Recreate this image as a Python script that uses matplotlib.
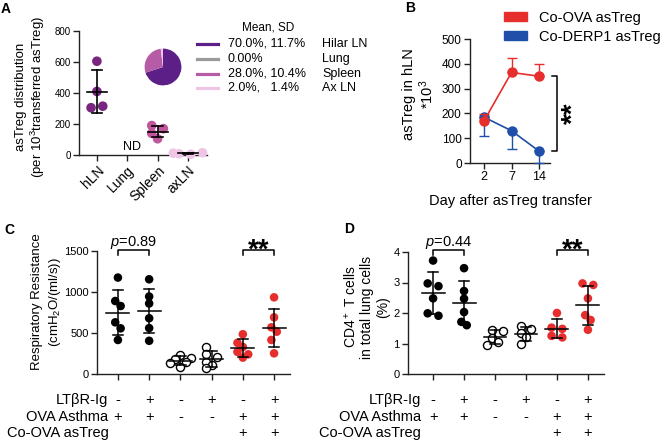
import numpy as np
import matplotlib
matplotlib.use("Agg")
import matplotlib.pyplot as plt
from matplotlib.patches import Patch

plt.rcParams['font.family'] = ['Liberation Sans', 'DejaVu Sans']
plt.rcParams['mathtext.fontset'] = 'custom'
plt.rcParams['mathtext.rm'] = 'Liberation Sans'
plt.rcParams['mathtext.it'] = 'Liberation Sans:italic'
plt.rcParams['mathtext.bf'] = 'Liberation Sans:bold'
plt.rcParams['axes.linewidth'] = 1.0
plt.rcParams['axes.edgecolor'] = '#222222'

W, H = 661, 442

# ---------------- data ----------------
# Panel A
a_cats = ['hLN', 'Lung', 'Spleen', 'axLN']
a_hln = [605, 410, 305, 315]
a_spleen = [190, 170, 140, 105]
a_axln = [5, 15, 8, 12]
a_yticks = [0, 200, 400, 600, 800]
pie_names = ['Hilar LN', 'Lung', 'Spleen', 'Ax LN']
pie_mean = [70.0, 0.0, 28.0, 2.0]
pie_text = ['70.0%, 11.7%', '0.00%', '28.0%, 10.4%', '2.0%,   1.4%']

# Panel B
b_days = ['2', '7', '14']
b_ova = [170, 365, 350]
b_ova_err = [27, 57, 50]
b_derp = [185, 130, 48]
b_derp_err = [77, 75, 48]
b_yticks = [0, 100, 200, 300, 400, 500]

# Panel C
c_groups = [
    [1176, 890, 829, 630, 557, 415],
    [1155, 945, 860, 680, 560, 405],
    [230, 200, 180, 150, 130, 90],
    [330, 240, 205, 150, 110, 70],
    [485, 380, 330, 270, 240, 200],
    [935, 691, 569, 516, 415, 252],
]
c_yticks = [0, 500, 1000, 1500]

# Panel D
d_groups = [
    [3.72, 2.97, 2.88, 2.48, 1.99, 1.91],
    [3.47, 2.72, 2.47, 2.03, 1.71, 1.60],
    [1.45, 1.42, 1.18, 1.05, 0.95],
    [1.58, 1.48, 1.34, 1.20, 0.97],
    [2.00, 1.52, 1.48, 1.25, 1.20],
    [2.97, 2.92, 2.48, 1.93, 1.77, 1.45],
]
d_yticks = [0, 1, 2, 3, 4]

row_labels = ['LT\u03b2R-Ig', 'OVA Asthma', 'Co-OVA asTreg']
row_ltbr = ['-', '+', '-', '+', '-', '+']
row_ova = ['+', '+', '-', '-', '+', '+']
row_treg = ['', '', '', '', '+', '+']

# colours
PURPLE_DARK = '#5b1f87'
PURPLE_DOT = '#7a2580'
GRAY = '#9a9a9a'
PINK = '#b65ba5'
PINK_DOT = '#c0579c'
LIGHT = '#efc5e5'
RED = '#e62e2d'
BLUE = '#1f4fa8'

fig = plt.figure(figsize=(W / 100, H / 100), dpi=100)


def rect(l, t, r, b):
    return [l / W, 1 - b / H, (r - l) / W, (b - t) / H]


def fx(x):
    return x / W


def fy(y):
    return 1 - y / H


def swarm(vals, ppx_x, ppx_y, d=8.3):
    """Greedy beeswarm in pixel space, then each overlapping cluster is centred."""
    placed = []
    for v in vals:
        y = v * ppx_y
        for k in [0, 1, -1, 2, -2, 3, -3]:
            x = k * d * 0.65
            if all((x - px) ** 2 + (y - py) ** 2 >= (0.75 * d) ** 2 for px, py in placed):
                break
        placed.append([x, y])
    # clusters: points linked if vertical gap < d
    n = len(placed)
    order = sorted(range(n), key=lambda j: placed[j][1])
    clusters, cur = [], [order[0]]
    for a, b in zip(order[:-1], order[1:]):
        if placed[b][1] - placed[a][1] < d:
            cur.append(b)
        else:
            clusters.append(cur)
            cur = [b]
    clusters.append(cur)
    for cl in clusters:
        if len(cl) > 1:
            xs = [placed[j][0] for j in cl]
            c = (max(xs) + min(xs)) / 2
            for j in cl:
                placed[j][0] -= c
    return np.array([p[0] / ppx_x for p in placed])


def style_axes(ax, fs=8):
    for s in ['top', 'right']:
        ax.spines[s].set_visible(False)
    ax.tick_params(direction='out', length=4, width=1.0, labelsize=fs, pad=2,
                   color='#222222')


def mean_sd(ax, x, vals, halfw, capw, color='k', lw=1.2):
    m = np.mean(vals)
    s = np.std(vals, ddof=1)
    ax.plot([x - halfw, x + halfw], [m, m], color=color, lw=lw, zorder=5, clip_on=False)
    ax.plot([x, x], [m - s, m + s], color=color, lw=lw, zorder=5, clip_on=False)
    for yy in (m - s, m + s):
        ax.plot([x - capw, x + capw], [yy, yy], color=color, lw=lw, zorder=5, clip_on=False)


# ---------------- Panel A ----------------
axA = fig.add_axes(rect(79, 31, 207, 155))
style_axes(axA, 7)
axA.set_xlim(-0.59, 3.63)
axA.set_ylim(0, 800)
axA.set_yticks(a_yticks)
axA.set_xticks(range(4))
axA.set_xticklabels(a_cats, rotation=45, ha='right', va='top', fontsize=10,
                    rotation_mode='anchor')
ppx_x = 30.33
ppx_y = 124 / 800
for i, (vals, col) in enumerate([(a_hln, PURPLE_DOT), (None, None),
                                 (a_spleen, PINK_DOT), (a_axln, LIGHT)]):
    if vals is None:
        continue
    off = swarm(vals, ppx_x, ppx_y, d=9)
    axA.scatter(i + off, vals, s=48, color=col, edgecolor='none', zorder=3, clip_on=False)
    mean_sd(axA, i, vals, 0.33, 0.17)
axA.text(1.15, 52, 'ND', ha='center', va='center', fontsize=9)
fig.text(fx(31), fy(97), 'asTreg distribution\n(per 10$^3$transferred asTreg)',
         rotation=90, ha='center', va='center', multialignment='center',
         fontsize=9.5, linespacing=1.2)

# pie inset
axP = fig.add_axes(rect(140, 44, 186, 90))
axP.pie(pie_mean, colors=[PURPLE_DARK, GRAY, PINK, LIGHT], startangle=90,
        counterclock=False, wedgeprops=dict(linewidth=0))
axP.set_aspect('equal')
axP.axis('off')

fig.text(fx(242), fy(27), 'Mean, SD', fontsize=8.5, va='center', ha='left')
leg_y = [44, 59, 74, 88]
for yy, col, txt, name in zip(leg_y, [PURPLE_DARK, GRAY, PINK, LIGHT], pie_text, pie_names):
    fig.add_artist(plt.Line2D([fx(197), fx(218)], [fy(yy), fy(yy)], color=col, lw=2.3))
    fig.text(fx(228), fy(yy), txt, fontsize=9, va='center', ha='left')
    fig.text(fx(322), fy(yy), name, fontsize=9, va='center', ha='left')

# ---------------- Panel B ----------------
axB = fig.add_axes(rect(470, 39, 550, 163))
style_axes(axB, 8.5)
axB.set_xlim(-0.51, 2.4)
axB.set_ylim(0, 500)
axB.set_yticks(b_yticks)
axB.set_xticks(range(3))
axB.set_xticklabels(b_days, fontsize=9)
xb = np.arange(3)
axB.errorbar(xb, b_ova, yerr=[np.zeros(3), b_ova_err], color=RED, lw=1.2, marker='o',
             ms=6.5, capsize=3.5, elinewidth=1, capthick=1, zorder=4, clip_on=False)
axB.errorbar(xb, b_derp, yerr=[b_derp_err, np.zeros(3)], color=BLUE, lw=1.2, marker='o',
             ms=6.5, capsize=3.5, elinewidth=1, capthick=1, zorder=3, clip_on=False)
axB.plot([2.47, 2.65, 2.65, 2.47], [b_ova[2], b_ova[2], b_derp[2], b_derp[2]],
         color='k', lw=1.1, clip_on=False)
axB.text(3.5, (b_ova[2] + b_derp[2]) / 2, '**', rotation=90, rotation_mode='anchor',
         ha='center', va='baseline', fontsize=20, fontweight='bold')
fig.text(fx(419), fy(94), 'asTreg in hLN\n*10$^3$', rotation=90, ha='center',
         va='center', multialignment='center', fontsize=10.5, linespacing=1.05)
axB.set_xlabel('Day after asTreg transfer', fontsize=10.5, labelpad=8)
fig.legend(handles=[Patch(color=RED), Patch(color=BLUE)],
           labels=['Co-OVA asTreg', 'Co-DERP1 asTreg'],
           loc='upper left', bbox_to_anchor=(fx(498), fy(5)), frameon=False,
           fontsize=10.5, handlelength=1.6, handleheight=0.55, labelspacing=0.35,
           handletextpad=0.8, borderaxespad=0)


# ---------------- Panels C & D ----------------
def scatter_panel(ax, groups, ylim, yticks, ppx_x, ppx_y, xlim, row_x, p_text,
                  brk, p_y, star_y):
    style_axes(ax, 8)
    ax.set_xlim(*xlim)
    ax.set_ylim(*ylim)
    ax.set_yticks(yticks)
    ax.set_xticks(range(6))
    ax.set_xticklabels([])
    for i, vals in enumerate(groups):
        off = swarm(vals, ppx_x, ppx_y)
        if i in (2, 3):
            ax.scatter(i + off, vals, s=34, facecolor='white', edgecolor='k',
                       lw=1.0, zorder=3, clip_on=False)
        else:
            col = 'k' if i < 2 else RED
            ax.scatter(i + off, vals, s=38, color=col, edgecolor='none', zorder=3,
                       clip_on=False)
        mean_sd(ax, i, vals, 0.37, 0.17, lw=1.1)
    by, bt = brk
    for a, b in [(0, 1), (4, 5)]:
        ax.plot([a, a, b, b], [bt, by, by, bt], color='k', lw=1.1, clip_on=False)
    ax.text(0.5, p_y, p_text, ha='center', va='baseline', fontsize=10.5)
    ax.text(4.5, star_y, '**', ha='center', va='baseline', fontsize=20,
            fontweight='bold')
    tr = ax.get_xaxis_transform()
    rows_y = [-0.215, -0.35, -0.48]
    for lab, yy in zip(row_labels, rows_y):
        ax.text(row_x, yy, lab, transform=tr, ha='right', va='center', fontsize=10.5,
                clip_on=False)
    for row, yy in zip([row_ltbr, row_ova, row_treg], rows_y):
        for i, sgn in enumerate(row):
            if sgn:
                ax.text(i, yy, sgn, transform=tr, ha='center', va='center',
                        fontsize=10.5, clip_on=False)


axC = fig.add_axes(rect(97, 251, 290, 374))
scatter_panel(axC, c_groups, (0, 1500), c_yticks, 31.2, 123 / 1500,
              (-0.67, 5.51), -0.3, '$p$=0.89', (1512, 1455), 1561, 1415)
fig.text(fx(47), fy(302), 'Respiratory Resistance\n(cmH$_2$O/(ml/s))', rotation=90,
         ha='center', va='center', multialignment='center', fontsize=9.5,
         linespacing=1.3)

axD = fig.add_axes(rect(408, 252, 604, 374))
scatter_panel(axD, d_groups, (0, 4), d_yticks, 31.0, 122 / 4,
              (-0.81, 5.52), -0.38, '$p$=0.44', (4.07, 3.9), 4.20, 3.80)
fig.text(fx(366), fy(307), 'CD4$^+$ T cells\nin total lung cells\n(%)', rotation=90,
         ha='center', va='center', multialignment='center', fontsize=10,
         linespacing=1.15)

# panel letters
for lab, x, y in [('A', 6, 9), ('B', 410, 8), ('C', 9, 230), ('D', 349, 229)]:
    fig.text(fx(x), fy(y), lab, fontsize=10, fontweight='bold', ha='center', va='center')

fig.savefig('out.png', dpi=100)
